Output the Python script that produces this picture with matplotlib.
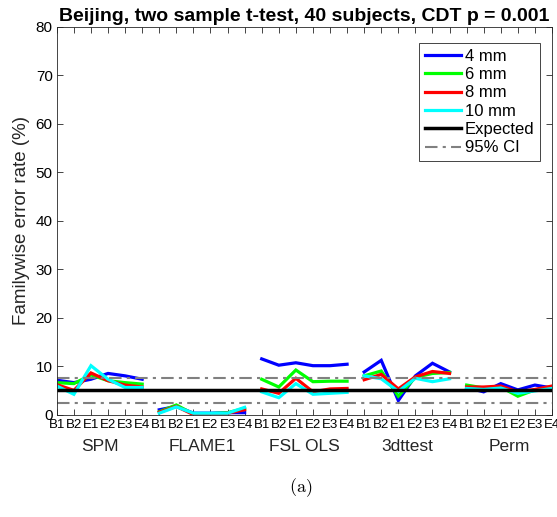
import numpy as np
import matplotlib.pyplot as plt

plt.rcParams['font.family'] = ['Liberation Sans', 'DejaVu Sans']
plt.rcParams['mathtext.fontset'] = 'cm'

# familywise error rates (%) per software package, 6 designs each
groups = ["SPM", "FLAME1", "FSL OLS", "3dttest", "Perm"]
designs = ["B1", "B2", "E1", "E2", "E3", "E4"]

fwe_4mm = [7.1, 6.6, 7.3, 8.5, 8.0, 7.3,
           1.0, 1.7, 0.3, 0.3, 0.4, 0.4,
           11.5, 10.2, 10.7, 10.1, 10.1, 10.4,
           8.8, 11.2, 2.9, 8.0, 10.6, 8.8,
           5.6, 4.7, 6.4, 5.1, 6.1, 5.5]
fwe_6mm = [6.6, 6.4, 8.2, 7.0, 6.6, 6.3,
           0.6, 2.0, 0.1, 0.2, 0.4, 1.3,
           7.3, 5.7, 9.2, 6.8, 6.9, 6.9,
           8.0, 9.0, 3.8, 7.7, 8.5, 8.7,
           6.1, 5.5, 5.7, 3.8, 5.1, 5.7]
fwe_8mm = [6.2, 5.0, 8.6, 7.0, 6.1, 5.7,
           0.5, 1.7, 0.0, 0.0, 0.3, 1.0,
           5.3, 4.4, 7.5, 4.7, 5.3, 5.4,
           7.2, 8.3, 5.3, 7.8, 8.9, 8.5,
           5.7, 5.7, 5.9, 4.7, 5.2, 5.9]
fwe_10mm = [5.9, 4.2, 10.1, 7.3, 5.6, 5.6,
            0.3, 1.6, 0.3, 0.3, 0.3, 1.5,
            4.7, 3.5, 6.4, 4.2, 4.4, 4.6,
            8.0, 7.4, 4.8, 7.5, 6.8, 7.4,
            5.4, 5.2, 5.5, 4.4, 4.9, 5.4]

series = [("4 mm", fwe_4mm, "#0000ff"),
          ("6 mm", fwe_6mm, "#00ff00"),
          ("8 mm", fwe_8mm, "#ff0000"),
          ("10 mm", fwe_10mm, "#00ffff")]

expected = 5.0
ci_low, ci_high = 2.5, 7.6

fig = plt.figure(figsize=(5.57, 5.17), dpi=100)
ax = fig.add_axes([0.102, 0.198, 0.889, 0.750])

n = len(designs)
x = np.arange(1, len(groups) * n + 1)

for label, vals, col in series:
    vals = np.array(vals)
    for g in range(len(groups)):
        sl = slice(g * n, (g + 1) * n)
        ax.plot(x[sl], vals[sl], color=col, lw=2.3,
                label=label if g == 0 else None, solid_joinstyle='miter')

ax.plot([x[0], x[-1]], [expected, expected], color='black', lw=2.5, label="Expected")
ax.plot([x[0], x[-1]], [ci_low, ci_low], color='#808080', lw=1.5, ls='-.',
        dashes=(6, 2.5, 1.5, 2.5), label="95% CI")
ax.plot([x[0], x[-1]], [ci_high, ci_high], color='#808080', lw=1.5, ls='-.',
        dashes=(6, 2.5, 1.5, 2.5))

ax.set_xlim(1, x[-1])
ax.set_ylim(0, 80)
ax.set_yticks(np.arange(0, 81, 10))
ax.set_xticks(x)
ax.set_xticklabels(designs * len(groups), fontsize=9.5)
ax.tick_params(axis='both', direction='in', top=True, right=True,
               length=4, width=0.6, color='#262626', pad=3)
ax.tick_params(axis='x', labelsize=9.5)
ax.tick_params(axis='y', labelsize=11)
for s in ax.spines.values():
    s.set_linewidth(0.6)
    s.set_color('#262626')

for g, name in enumerate(groups):
    xc = g * n + (n + 1) / 2
    ax.text(xc, -0.062, name, transform=ax.get_xaxis_transform(),
            ha='center', va='top', fontsize=12.5, color='#262626')

ax.set_ylabel("Familywise error rate (%)", fontsize=13.5, color='#262626')
ax.set_title("Beijing, two sample t-test, 40 subjects, CDT p = 0.001",
             fontsize=14, fontweight='bold', pad=4)

leg = ax.legend(loc='upper right', bbox_to_anchor=(0.993, 0.98), fontsize=12,
                handlelength=2.2, handletextpad=0.2, labelspacing=0.2,
                borderpad=0.35, fancybox=False, framealpha=1)
leg.get_frame().set_edgecolor('#262626')
leg.get_frame().set_linewidth(0.6)

fig.text(0.54, 0.035, r"$\mathrm{(a)}$", ha='center', va='bottom', fontsize=13)

fig.savefig("out.png", dpi=100)
